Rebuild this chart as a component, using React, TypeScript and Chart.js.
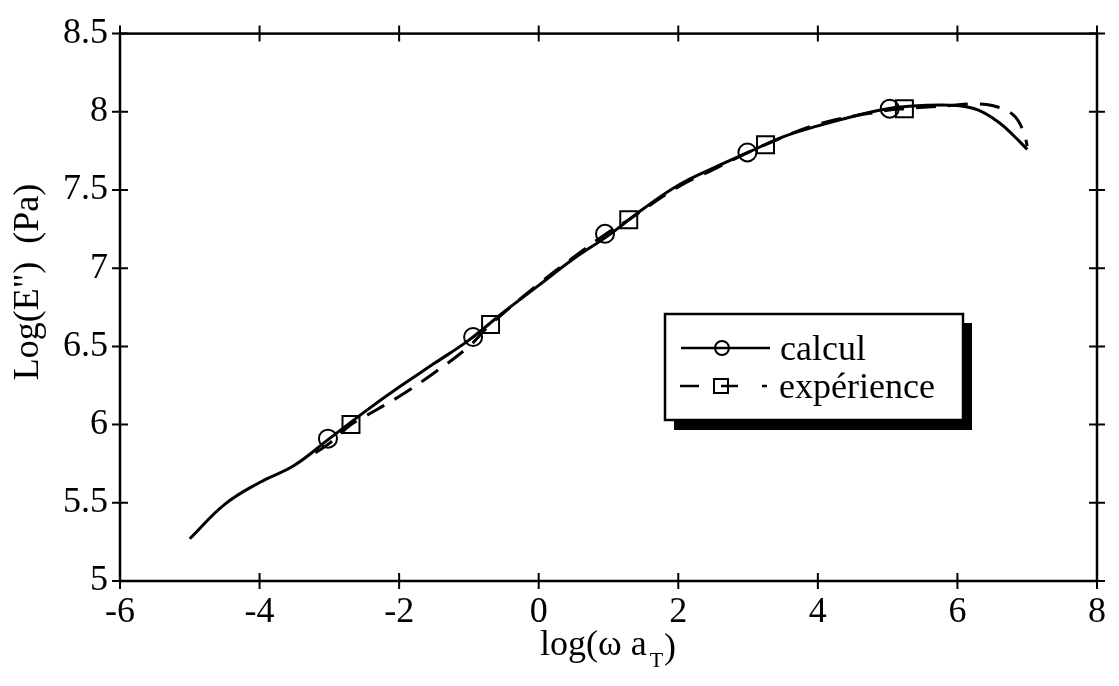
import React, { useEffect, useRef } from "react";
import { Chart, registerables } from "chart.js";

Chart.register(...registerables);

// ---- data ----
const calculX = [-5, -4.5, -4, -3.5, -3, -2.5, -2, -1.5, -1, -0.5, 0, 0.5, 1, 1.5, 2, 2.5, 3, 3.5, 4, 4.5, 5, 5.5, 6, 6.3, 6.6, 6.8, 7.0];
const calculY = [5.27, 5.49, 5.63, 5.74, 5.91, 6.08, 6.24, 6.39, 6.54, 6.72, 6.89, 7.06, 7.21, 7.38, 7.53, 7.64, 7.74, 7.84, 7.91, 7.97, 8.02, 8.04, 8.04, 8.01, 7.93, 7.85, 7.76];

const experienceX = [-3.2, -3, -2.69, -2.5, -2, -1.5, -1, -0.69, 0, 0.5, 1, 1.29, 2, 2.5, 3, 3.25, 4, 5, 5.24, 5.9, 6.2, 6.5, 6.8, 6.95, 7.0];
const experienceY = [5.82, 5.88, 6.0, 6.05, 6.18, 6.33, 6.5, 6.64, 6.9, 7.07, 7.23, 7.31, 7.52, 7.63, 7.74, 7.79, 7.92, 8.01, 8.02, 8.04, 8.05, 8.04, 7.98, 7.87, 7.78];

const calculMarkX = [-3.02, -0.94, 0.95, 2.99, 5.03];
const calculMarkY = [5.91, 6.56, 7.22, 7.74, 8.02];
const experienceMarkX = [-2.69, -0.69, 1.29, 3.25, 5.24];
const experienceMarkY = [6.0, 6.64, 7.31, 7.79, 8.02];

const xTicks = [-6, -4, -2, 0, 2, 4, 6, 8];
const yTicks = [5, 5.5, 6, 6.5, 7, 7.5, 8, 8.5];

const xTitleMain = "log(\u03c9 a";
const xTitleSub = "T";
const xTitleEnd = ")";
const yTitle = 'Log(E")  (Pa)';
const legendLabels = ["calcul", "exp\u00e9rience"];

const FONT = '"Liberation Serif", "Times New Roman", serif';

const zip = (xs: number[], ys: number[]) => xs.map((x, i) => ({ x, y: ys[i] }));

const framePlugin = {
  id: "frameAndExtras",
  afterDraw(chart: any) {
    const ctx = chart.ctx as CanvasRenderingContext2D;
    const { left, right, top, bottom } = chart.chartArea;
    const xs = chart.scales.x;
    const ys = chart.scales.y;
    ctx.save();
    ctx.strokeStyle = "#000";
    ctx.lineWidth = 2.5;
    ctx.strokeRect(left, top, right - left, bottom - top);
    ctx.lineWidth = 2;
    const t = 8;
    ctx.beginPath();
    for (const v of xTicks) {
      const px = xs.getPixelForValue(v);
      ctx.moveTo(px, bottom - t);
      ctx.lineTo(px, bottom + t);
      ctx.moveTo(px, top - t);
      ctx.lineTo(px, top + t);
    }
    for (const v of yTicks) {
      const py = ys.getPixelForValue(v);
      ctx.moveTo(left - t, py);
      ctx.lineTo(left + t, py);
      ctx.moveTo(right - t, py);
      ctx.lineTo(right + t, py);
    }
    ctx.stroke();

    // axis titles
    ctx.fillStyle = "#000";
    ctx.textBaseline = "alphabetic";
    ctx.textAlign = "left";
    ctx.font = `36px ${FONT}`;
    const xStart = 540;
    const xBase = 655;
    ctx.fillText(xTitleMain, xStart, xBase);
    const w1 = ctx.measureText(xTitleMain).width;
    ctx.font = `22px ${FONT}`;
    ctx.fillText(xTitleSub, xStart + w1 + 3, xBase + 12);
    const w2 = ctx.measureText(xTitleSub).width;
    ctx.font = `36px ${FONT}`;
    ctx.fillText(xTitleEnd, xStart + w1 + 3 + w2 + 1, xBase + 3);

    ctx.save();
    ctx.translate(38, 282);
    ctx.rotate(-Math.PI / 2);
    ctx.textAlign = "center";
    ctx.font = `36px ${FONT}`;
    ctx.fillText(yTitle, 0, 0);
    ctx.restore();

    // legend box with shadow
    const bx = 665, by = 314, bw = 298, bh = 106;
    ctx.fillStyle = "#000";
    ctx.fillRect(bx + 9, by + 9, bw, bh + 1);
    ctx.fillStyle = "#fff";
    ctx.fillRect(bx, by, bw, bh);
    ctx.strokeStyle = "#000";
    ctx.lineWidth = 2.5;
    ctx.strokeRect(bx, by, bw, bh);

    // entry 1
    const y1 = 348;
    ctx.lineWidth = 2.5;
    ctx.setLineDash([]);
    ctx.beginPath();
    ctx.moveTo(681, y1);
    ctx.lineTo(770, y1);
    ctx.stroke();
    ctx.lineWidth = 2;
    ctx.beginPath();
    ctx.arc(722, y1, 7, 0, Math.PI * 2);
    ctx.stroke();
    ctx.fillStyle = "#000";
    ctx.font = `36px ${FONT}`;
    ctx.textAlign = "left";
    ctx.fillText(legendLabels[0], 780, y1 + 12);

    // entry 2
    const y2 = 386;
    ctx.lineWidth = 2.5;
    ctx.beginPath();
    ctx.moveTo(680, y2);
    ctx.lineTo(699, y2);
    ctx.moveTo(721, y2);
    ctx.lineTo(738, y2);
    ctx.moveTo(762, y2);
    ctx.lineTo(767, y2);
    ctx.stroke();
    ctx.lineWidth = 2;
    ctx.strokeRect(714, y2 - 7, 14, 14);
    ctx.fillText(legendLabels[1], 779, y2 + 12);
    ctx.restore();
  },
};

export default function App() {
  const ref = useRef<HTMLCanvasElement | null>(null);
  useEffect(() => {
    if (!ref.current) return;
    const tickFont = { family: FONT, size: 36 };
    const chart = new Chart(ref.current, {
      type: "scatter",
      data: {
        datasets: [
          {
            label: legendLabels[0],
            data: zip(calculX, calculY),
            showLine: true,
            borderColor: "#000",
            borderWidth: 3,
            pointRadius: 0,
            tension: 0.4,
            fill: false,
          },
          {
            label: legendLabels[1],
            data: zip(experienceX, experienceY),
            showLine: true,
            borderColor: "#000",
            borderWidth: 3,
            borderDash: [20, 12],
            pointRadius: 0,
            tension: 0.4,
            fill: false,
          },
          {
            label: legendLabels[0] + " markers",
            data: zip(calculMarkX, calculMarkY),
            showLine: false,
            pointStyle: "circle",
            pointRadius: 9,
            pointBorderWidth: 2,
            pointBorderColor: "#000",
            pointBackgroundColor: "rgba(0,0,0,0)",
          },
          {
            label: legendLabels[1] + " markers",
            data: zip(experienceMarkX, experienceMarkY),
            showLine: false,
            pointStyle: "rect",
            pointRadius: 12,
            pointBorderWidth: 2,
            pointBorderColor: "#000",
            pointBackgroundColor: "rgba(0,0,0,0)",
          },
        ],
      } as any,
      options: {
        animation: false,
        responsive: true,
        maintainAspectRatio: false,
        layout: { padding: { left: 0, top: 33, right: 22, bottom: 0 } },
        plugins: { legend: { display: false }, tooltip: { enabled: false } },
        scales: {
          x: {
            type: "linear",
            min: -6,
            max: 8,
            afterBuildTicks: (s: any) => {
              s.ticks = xTicks.map((v) => ({ value: v }));
            },
            afterFit: (s: any) => {
              s.height = 105;
            },
            ticks: {
              font: tickFont,
              color: "#000",
              padding: 10,
              maxRotation: 0,
              autoSkip: false,
              callback: (v: any) => String(v),
            },
            grid: { display: false, drawTicks: false },
            border: { display: false },
          },
          y: {
            type: "linear",
            min: 5,
            max: 8.5,
            afterBuildTicks: (s: any) => {
              s.ticks = yTicks.map((v) => ({ value: v }));
            },
            afterFit: (s: any) => {
              s.width = 120;
            },
            ticks: {
              font: tickFont,
              color: "#000",
              padding: 12,
              autoSkip: false,
              callback: (v: any) => String(v),
            },
            grid: { display: false, drawTicks: false },
            border: { display: false },
          },
        },
      } as any,
      plugins: [framePlugin],
    });
    return () => chart.destroy();
  }, []);

  return (
    <div style={{ position: "absolute", left: 0, top: 0, width: 1119, height: 686, background: "#fff" }}>
      <canvas ref={ref} />
    </div>
  );
}
